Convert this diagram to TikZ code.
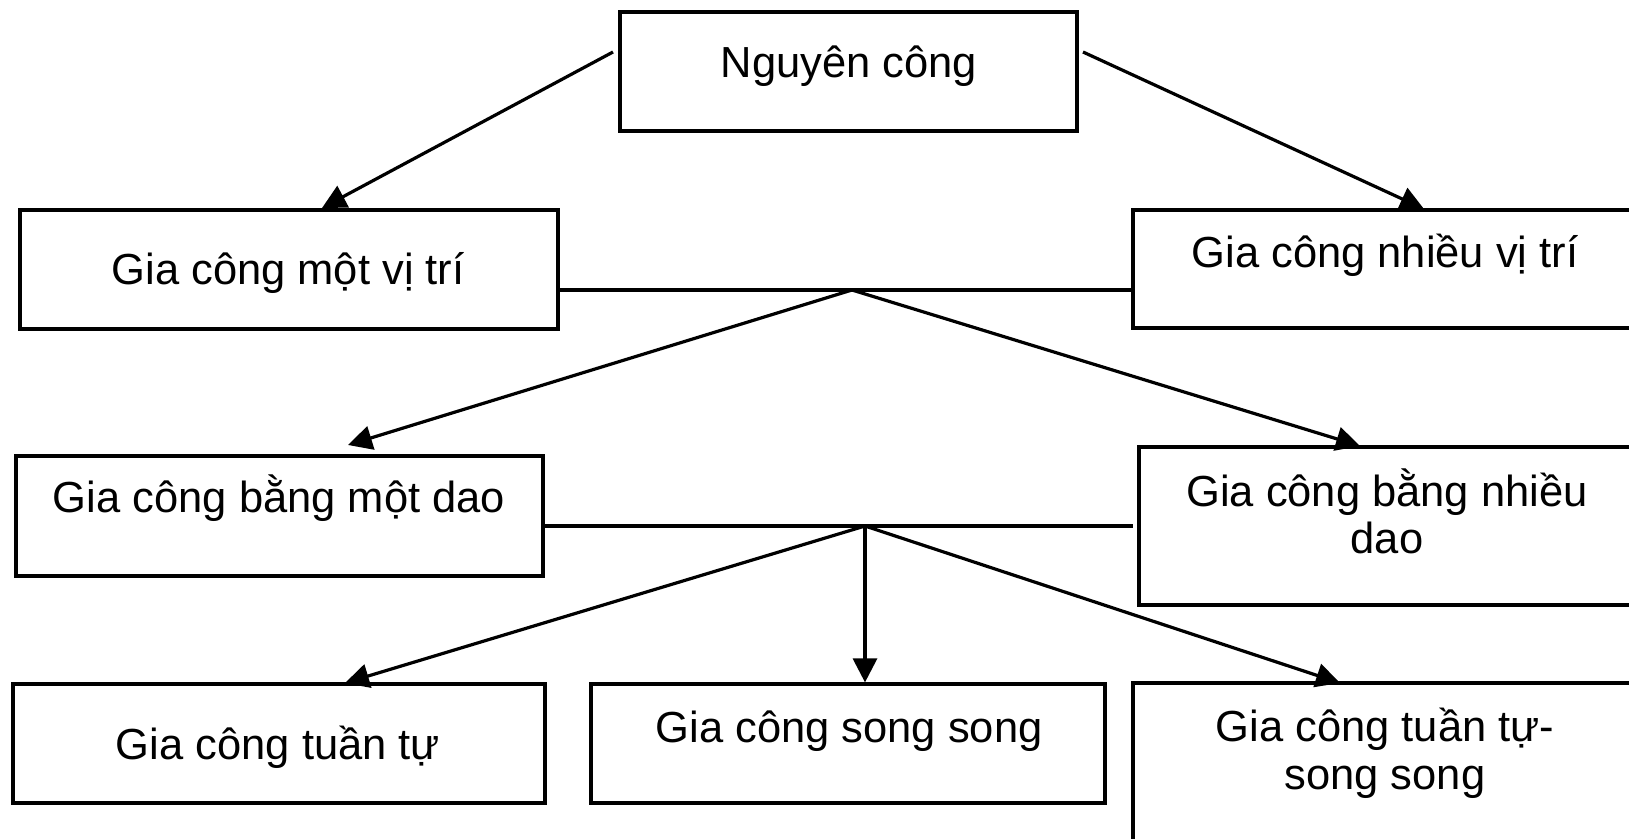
\documentclass[tikz,border=0pt]{standalone}
\usepackage{fontspec}
\setmainfont{Liberation Sans}
\usetikzlibrary{arrows.meta}
\begin{document}
\begin{tikzpicture}[x=0.5pt,y=-0.5pt,
  box/.style={draw, line width=1.6pt, inner sep=0pt},
  txt/.style={anchor=base, inner sep=0pt, font=\fontsize{21.75pt}{24pt}\selectfont, align=center},
  conn/.style={line width=1.6pt},
  arr/.style={conn, -{Triangle[length=12pt,width=12pt]}}]
\useasboundingbox (0,0) rectangle (1629,839);
\clip (0,0) rectangle (1629,839);
% boxes
\node[box, minimum width=228.5pt, minimum height=59.5pt] (root) at (848.5,71.5) {};
\node[box, minimum width=269pt, minimum height=59.5pt] (box1) at (289,269.5) {};
\node[box, minimum width=252pt, minimum height=59pt] (box2) at (1385,269) {};
\node[box, minimum width=263.5pt, minimum height=60pt] (box3) at (279.5,516) {};
\node[box, minimum width=248pt, minimum height=79pt] (box4) at (1387,526) {};
\node[box, minimum width=266pt, minimum height=59.5pt] (box5) at (279,743.5) {};
\node[box, minimum width=257pt, minimum height=59.5pt] (box6) at (848,743.5) {};
\node[box, minimum width=252pt, minimum height=108.5pt] (box7) at (1385,791.5) {};
% texts (multi-line nodes: base = last line)
\node[txt] (roott) at (849,78) {Nguyên công};
\node[txt] (b1t) at (288,285) {Gia công một vị trí};
\node[txt] (b2t) at (1385,268) {Gia công nhiều vị trí};
\node[txt] (b3t) at (279,513) {Gia công bằng một dao};
\node[txt] (b4t) at (1387,554) {Gia công bằng nhiều\\dao};
\node[txt] (b5t) at (278,759) {Gia công tuần tự};
\node[txt] (b6t) at (849,742) {Gia công song song};
\node[txt] (b7t) at (1385,789) {Gia công tuần tự-\\song song};
% connector points
\coordinate (r1) at (613,52);
\coordinate (r2) at (1083,52);
\coordinate (t1) at (322,208);
\coordinate (t2) at (1424,209);
\coordinate (j1) at (852,290);
\coordinate (t3) at (348,445);
\coordinate (t4) at (1360,446);
\coordinate (j2) at (865,526);
\coordinate (t5) at (345,683);
\coordinate (t7) at (1340,683);
% connectors
\draw[arr] (r1) -- (t1);
\draw[arr] (r2) -- (t2);
\draw[conn] (box1.east |- j1) -- (box2.west |- j1);
\draw[arr] (j1) -- (t3);
\draw[arr] (j1) -- (t4);
\draw[conn] (box3.east |- j2) -- ([xshift=-2pt]box4.west |- j2);
\draw[arr] (j2) -- (t5);
\draw[arr] (j2) -- (j2 |- box6.north);
\draw[arr] (j2) -- (t7);
\end{tikzpicture}
\end{document}
